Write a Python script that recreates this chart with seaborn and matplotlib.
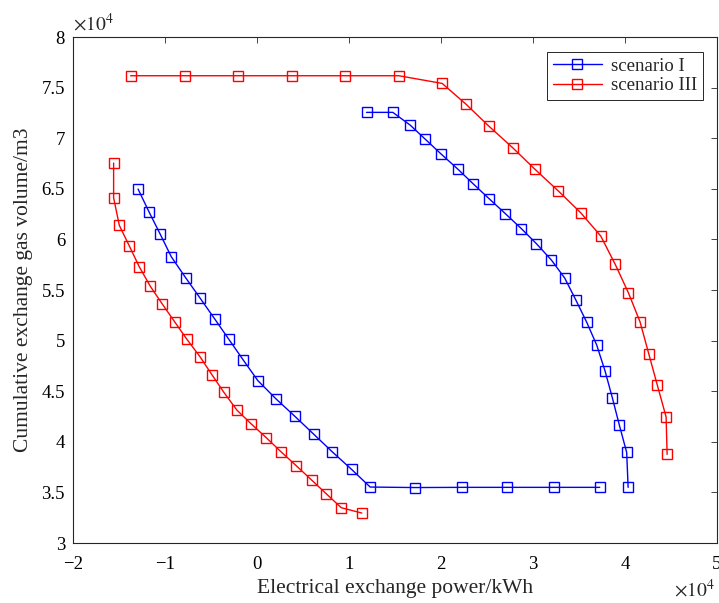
import numpy as np
import pandas as pd
import matplotlib
matplotlib.use("Agg")
import matplotlib.pyplot as plt
from matplotlib.ticker import FuncFormatter
import seaborn as sns

# ---- data ----
# scenario I, segment A
s1a_x = [-12960, -11780, -10540, -9350, -7790, -6200, -4640, -3090, -1520, 70,
         2020, 4090, 6120, 8180, 10250, 12280, 17180, 22210, 27210, 32240, 37240]
s1a_y = [64980, 62740, 60500, 58290, 56220, 54180, 52160, 50130, 48080, 46040,
         44260, 42520, 40770, 38990, 37280, 35530, 35480, 35500, 35500, 35500, 35500]
# scenario I, segment B
s1b_x = [11880, 14740, 16630, 18290, 20030, 21800, 23510, 25220, 26990, 28730,
         30360, 31990, 33430, 34630, 35830, 36910, 37830, 38620, 39380, 40170, 40330]
s1b_y = [72560, 72560, 71300, 69890, 68410, 66960, 65470, 64020, 62540, 61060,
         59580, 57960, 56190, 54040, 51810, 49570, 46970, 44330, 41630, 38960, 35500]
# scenario III, segment A
s3a_x = [-15620, -15620, -15000, -13910, -12830, -11630, -10330, -8990, -7650, -6220,
         -4930, -3630, -2220, -650, 980, 2610, 4240, 5900, 7500, 9130, 11370]
s3a_y = [67550, 64120, 61390, 59350, 57300, 55370, 53620, 51870, 50130, 48400,
         46630, 44890, 43140, 41760, 40410, 38990, 37640, 36230, 34870, 33490, 32960]
# scenario III, segment B
s3b_x = [-13770, -7900, -2110, 3730, 9570, 15390, 20110, 22720, 25170, 27780,
         30170, 32750, 35170, 37350, 38910, 40360, 41630, 42570, 43510, 44460, 44570]
s3b_y = [76180, 76180, 76180, 76180, 76180, 76180, 75420, 73350, 71210, 69060,
         66960, 64780, 62640, 60340, 57570, 54730, 51840, 48710, 45580, 42450, 38760]

series_names = ["scenario I", "scenario III"]
x_ticks = [-20000, -10000, 0, 10000, 20000, 30000, 40000, 50000]
y_ticks = [30000, 35000, 40000, 45000, 50000, 55000, 60000, 65000, 70000, 75000, 80000]

frames = []
for name, seg, xs, ys in [("scenario I", "A", s1a_x, s1a_y), ("scenario I", "B", s1b_x, s1b_y),
                          ("scenario III", "A", s3a_x, s3a_y), ("scenario III", "B", s3b_x, s3b_y)]:
    frames.append(pd.DataFrame({"x": xs, "y": ys, "scenario": name, "segment": seg}))
df = pd.concat(frames, ignore_index=True)

sns.set_theme(style="white")
plt.rcParams["font.family"] = ["Liberation Serif", "DejaVu Serif"]
plt.rcParams["mathtext.fontset"] = "stix"

fig = plt.figure(figsize=(7.19, 6.03), dpi=100)
ax = fig.add_axes([0.102, 0.0995, 0.8953, 0.839])

colors = {"scenario I": "#0000ff", "scenario III": "#ff0000"}
for name in series_names:
    sub = df[df["scenario"] == name]
    sns.lineplot(data=sub, x="x", y="y", units="segment", estimator=None, sort=False,
                 color=colors[name], marker="s", markersize=7.5, markerfacecolor="none",
                 markeredgecolor=colors[name], markeredgewidth=1.0, linewidth=1.0,
                 label=name, ax=ax)

ax.set_xlim(-20000, 50000)
ax.set_ylim(30000, 80000)
ax.set_xticks(x_ticks)
ax.set_yticks(y_ticks)
fmt = FuncFormatter(lambda v, p: f"{v/1e4:g}".replace("-", "\u2212"))
ax.xaxis.set_major_formatter(fmt)
ax.yaxis.set_major_formatter(fmt)
ax.tick_params(direction="in", top=True, right=True, length=4, width=0.6,
               labelsize=13.5, colors="#262626", labelcolor="black")
ax.tick_params(axis="x", pad=9)
ax.tick_params(axis="y", pad=6)
for sp in ax.spines.values():
    sp.set_color("#262626")
    sp.set_linewidth(0.8)

ax.set_xlabel("Electrical exchange power/kWh", fontsize=15.5, labelpad=5)
ax.set_ylabel("Cumulative exchange gas volume/m3", fontsize=15.5, labelpad=6)

ax.text(0.0, 1.005, r"$\times 10^4$", transform=ax.transAxes, fontsize=14, ha="left", va="bottom")
ax.text(0.997, -0.071, r"$\times 10^4$", transform=ax.transAxes, fontsize=14, ha="right", va="top")

handles, labels = ax.get_legend_handles_labels()
uniq = {}
for h, l in zip(handles, labels):
    uniq.setdefault(l, h)
leg = ax.legend(list(uniq.values()), list(uniq.keys()), loc="upper right",
                bbox_to_anchor=(0.978, 0.971), fontsize=13.5, frameon=True, fancybox=False,
                edgecolor="#262626", framealpha=1, borderpad=0.3, labelspacing=0.15,
                handlelength=2.6, handletextpad=0.5, borderaxespad=0)
leg.get_frame().set_linewidth(0.7)

fig.savefig("out.png", dpi=100)
